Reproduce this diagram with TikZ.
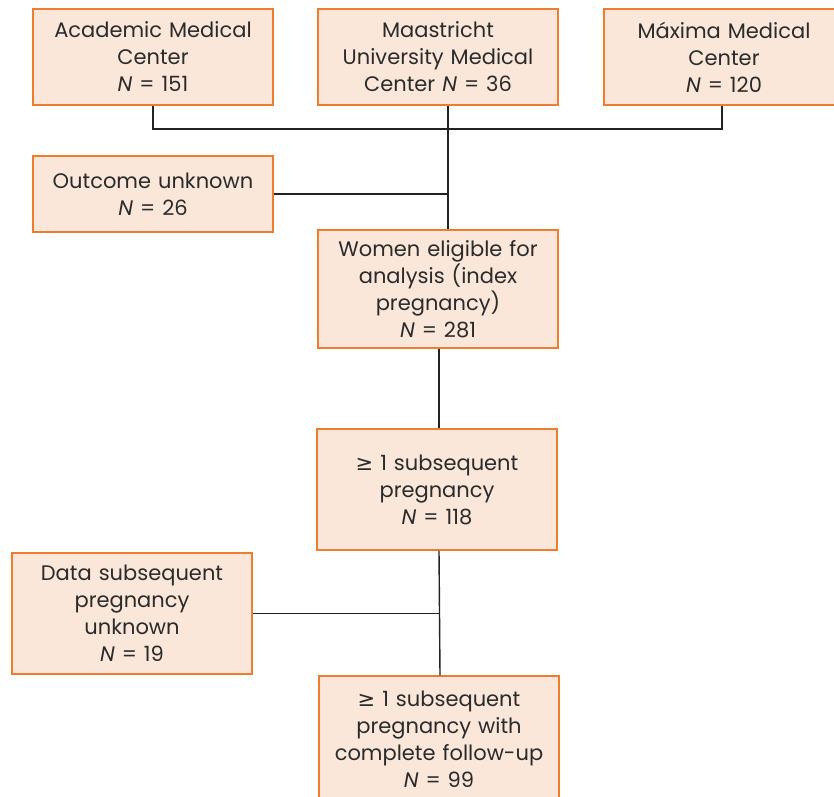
\documentclass[tikz,border=0pt]{standalone}
\usepackage{fontspec}
\setmainfont{Poppins}
\newfontfamily\symfont{DejaVu Sans}
\definecolor{boxfill}{HTML}{FAE7D9}
\definecolor{boxline}{HTML}{ED7D31}
\definecolor{txt}{HTML}{2B2B2B}
\definecolor{conn}{HTML}{222222}
\tikzset{
  flowbox/.style={draw=boxline, fill=boxfill, line width=1.5pt, rectangle,
    minimum width=240pt, text width=234pt, align=center, inner sep=0pt,
    text=txt, font=\fontsize{21}{27}\selectfont},
  link/.style={draw=conn, line width=1.4pt}
}
\begin{document}
\begin{tikzpicture}[x=1pt,y=1pt]
\useasboundingbox (0,0) rectangle (834,-796);
\clip (0,0) rectangle (834,-796);
\fill[white] (0,0) rectangle (834,-796);
\node[flowbox, minimum height=96pt] (amc) at (153,-57) {Academic Medical\\Center\\\textit{N} = 151};
\node[flowbox, minimum height=96pt] (mumc) at (438,-57) {Maastricht\\University Medical\\Center \textit{N} = 36};
\node[flowbox, minimum height=96pt] (max) at (724,-57) {Máxima Medical\\Center\\\textit{N} = 120};
\node[flowbox, minimum height=76pt] (out) at (153,-194) {Outcome unknown\\\textit{N} = 26};
\node[flowbox, minimum height=118pt] (elig) at (438,-289) {Women eligible for\\analysis (index\\pregnancy)\\\textit{N} = 281};
\node[flowbox, minimum height=121pt] (sub) at (437,-489.5) {{\symfont ≥} 1 subsequent\\pregnancy\\\textit{N} = 118};
\node[flowbox, minimum height=121pt] (data) at (132,-613.5) {Data subsequent\\pregnancy\\unknown\\\textit{N} = 19};
\node[flowbox, minimum height=126pt] (fin) at (439,-739) {{\symfont ≥} 1 subsequent\\pregnancy with\\complete follow-up\\\textit{N} = 99};
\coordinate (j1) at (448,-129);
\draw[link] (amc.south) |- (j1);
\draw[link] ([xshift=-2pt]max.south) |- (j1);
\draw[link] ([xshift=10pt]mumc.south) -- ([xshift=10pt]elig.north);
\draw[link] (out.east) -- (out.east -| j1);
\draw[link] ([xshift=1pt]elig.south) -- ([xshift=2pt]sub.north);
\draw[link] ([xshift=2pt]sub.south) -- ([xshift=1pt]fin.north);
\draw[link] (data.east) -- (data.east -| fin.north);
\end{tikzpicture}
\end{document}
